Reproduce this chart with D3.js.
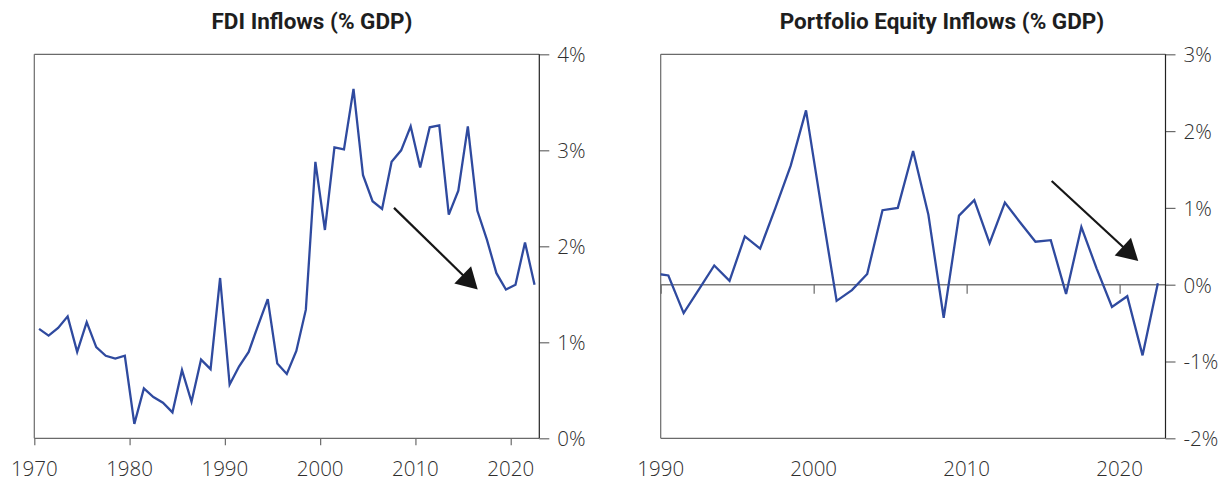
<!DOCTYPE html>
<html>
<head>
<meta charset="utf-8">
<script src="https://cdn.jsdelivr.net/npm/d3@7"></script>
<style>
  html, body { margin: 0; padding: 0; background: #fff; }
  svg { display: block; }
  .title { font-family: Roboto, "Liberation Sans", sans-serif; font-weight: 700; font-size: 22.5px; fill: #1e1e1e; }
  .tick-label { font-family: "Open Sans", "DejaVu Sans", sans-serif; font-weight: 300; font-size: 20.5px; fill: #2e2e2e; }
</style>
</head>
<body>
<svg id="chart" width="1228" height="480"></svg>
<script>
// ---------- DATA ----------
const fdiYears = d3.range(1970, 2023);
const fdiValues = [
  1.14, 1.07, 1.15, 1.27, 0.90, 1.21, 0.95, 0.86, 0.83, 0.86,
  0.15, 0.52, 0.43, 0.37, 0.27, 0.71, 0.38, 0.82, 0.72, 1.67,
  0.56, 0.75, 0.90, 1.18, 1.45, 0.78, 0.67, 0.91, 1.34, 2.88,
  2.17, 3.03, 3.01, 3.64, 2.74, 2.47, 2.39, 2.88, 3.00, 3.25,
  2.82, 3.24, 3.26, 2.33, 2.58, 3.25, 2.37, 2.07, 1.72, 1.55,
  1.60, 2.04, 1.60
];
const eqYears = d3.range(1989, 2023);
const eqValues = [
  0.15, 0.12, -0.37, -0.06, 0.25, 0.05, 0.63, 0.47, 1.00, 1.55,
  2.27, 1.01, -0.21, -0.07, 0.14, 0.97, 1.00, 1.74, 0.91, -0.43,
  0.90, 1.10, 0.54, 1.07, 0.81, 0.56, 0.58, -0.12, 0.75, 0.21,
  -0.29, -0.15, -0.92, 0.02
];
const fdiXTicks = [1970, 1980, 1990, 2000, 2010, 2020];
const fdiYTicks = [0, 1, 2, 3, 4];
const eqXTicks = [1990, 2000, 2010, 2020];
const eqYTicks = [-2, -1, 0, 1, 2, 3];
const fdiTitle = "FDI Inflows (% GDP)";
const eqTitle = "Portfolio Equity Inflows (% GDP)";
// trend arrows (in data units: [year, value])
const fdiArrow = [[2007.75, 2.40], [2016.54, 1.55]];
const eqArrow = [[2015.56, 1.35], [2021.22, 0.31]];

// ---------- DRAW ----------
const svg = d3.select("#chart");
const LINE = "#2f4a9f";
const FRAME = "#6a6a6a";
const AXIS = "#222";

function panel(opt) {
  const { id, left, right, top, bottom, xDomain, yDomain, years, values,
          xTicks, yTicks, title, titleX, arrow, zeroLine } = opt;
  const x = d3.scaleLinear().domain(xDomain).range([left, right]);
  const y = d3.scaleLinear().domain(yDomain).range([bottom, top]);
  const g = svg.append("g");

  // title
  g.append("text").attr("class", "title").attr("x", titleX).attr("y", 29)
    .attr("text-anchor", "middle").text(title);

  // frame: left (gray)
  g.append("line").attr("x1", left).attr("x2", left).attr("y1", top).attr("y2", bottom)
    .attr("stroke", FRAME).attr("stroke-width", 1.2);

  // right axis with ticks + labels
  const yAxis = d3.axisRight(y).tickValues(yTicks).tickSize(10).tickPadding(8)
    .tickFormat(d => d + "%");
  const ya = g.append("g").attr("transform", `translate(${right},0)`).call(yAxis);
  ya.select(".domain").remove();
  ya.selectAll(".tick line").attr("stroke", FRAME).attr("stroke-width", 1.2);
  ya.selectAll(".tick text").attr("class", "tick-label").attr("fill", null)
    .attr("dy", "0.36em");
  // top/bottom of frame
  [yDomain[0], yDomain[1]].forEach(v => {
    g.append("line").attr("x1", left).attr("x2", right).attr("y1", y(v)).attr("y2", y(v))
      .attr("stroke", FRAME).attr("stroke-width", 1.2);
  });
  if (zeroLine) {
    g.append("line").attr("x1", left).attr("x2", right).attr("y1", y(0)).attr("y2", y(0))
      .attr("stroke", "#7a7a7a").attr("stroke-width", 1.5);
  }
  g.append("line").attr("x1", right).attr("x2", right).attr("y1", top).attr("y2", bottom)
    .attr("stroke", AXIS).attr("stroke-width", 1.2);

  // x axis ticks (at baseline or zero line) and labels at bottom
  const xBase = zeroLine ? y(0) : bottom;
  const xAxis = d3.axisBottom(x).tickValues(xTicks).tickSize(zeroLine ? 9 : 7).tickFormat("");
  const xa = g.append("g").attr("transform", `translate(0,${xBase})`).call(xAxis);
  xa.select(".domain").remove();
  xa.selectAll(".tick line").attr("stroke", FRAME).attr("stroke-width", 1.2);
  g.selectAll(null).data(xTicks).enter().append("text")
    .attr("class", "tick-label")
    .attr("x", d => x(d)).attr("y", 475.5).attr("text-anchor", "middle")
    .text(d => d);

  // clip
  svg.append("clipPath").attr("id", id + "-clip").append("rect")
    .attr("x", left).attr("y", top).attr("width", right - left).attr("height", bottom - top);

  const pts = years.map((yr, i) => [yr + 0.5, values[i]]);
  g.append("path").datum(pts)
    .attr("clip-path", `url(#${id}-clip)`)
    .attr("fill", "none").attr("stroke", LINE).attr("stroke-width", 2.3)
    .attr("stroke-linejoin", "miter")
    .attr("d", d3.line().x(d => x(d[0])).y(d => y(d[1])));

  // arrow
  const [p0, p1] = arrow.map(d => [x(d[0]), y(d[1])]);
  const ang = Math.atan2(p1[1] - p0[1], p1[0] - p0[0]);
  const headL = 21, headW = 12;
  const bx = p1[0] - headL * Math.cos(ang), by = p1[1] - headL * Math.sin(ang);
  g.append("line").attr("x1", p0[0]).attr("y1", p0[1]).attr("x2", bx + 3 * Math.cos(ang)).attr("y2", by + 3 * Math.sin(ang))
    .attr("stroke", "#161616").attr("stroke-width", 2.2);
  const nx = -Math.sin(ang), ny = Math.cos(ang);
  g.append("path")
    .attr("d", `M${p1[0]},${p1[1]}L${bx + nx * headW},${by + ny * headW}L${bx - nx * headW},${by - ny * headW}Z`)
    .attr("fill", "#161616");
}

panel({
  id: "fdi", left: 34.3, right: 539.3, top: 54.3, bottom: 438.3,
  xDomain: [1970, 2023], yDomain: [0, 4],
  years: fdiYears, values: fdiValues, xTicks: fdiXTicks, yTicks: fdiYTicks,
  title: fdiTitle, titleX: 312, arrow: fdiArrow, zeroLine: false
});
panel({
  id: "eq", left: 660.7, right: 1165.5, top: 54.3, bottom: 438.3,
  xDomain: [1990, 2023], yDomain: [-2, 3],
  years: eqYears, values: eqValues, xTicks: eqXTicks, yTicks: eqYTicks,
  title: eqTitle, titleX: 942, arrow: eqArrow, zeroLine: true
});
</script>
</body>
</html>
